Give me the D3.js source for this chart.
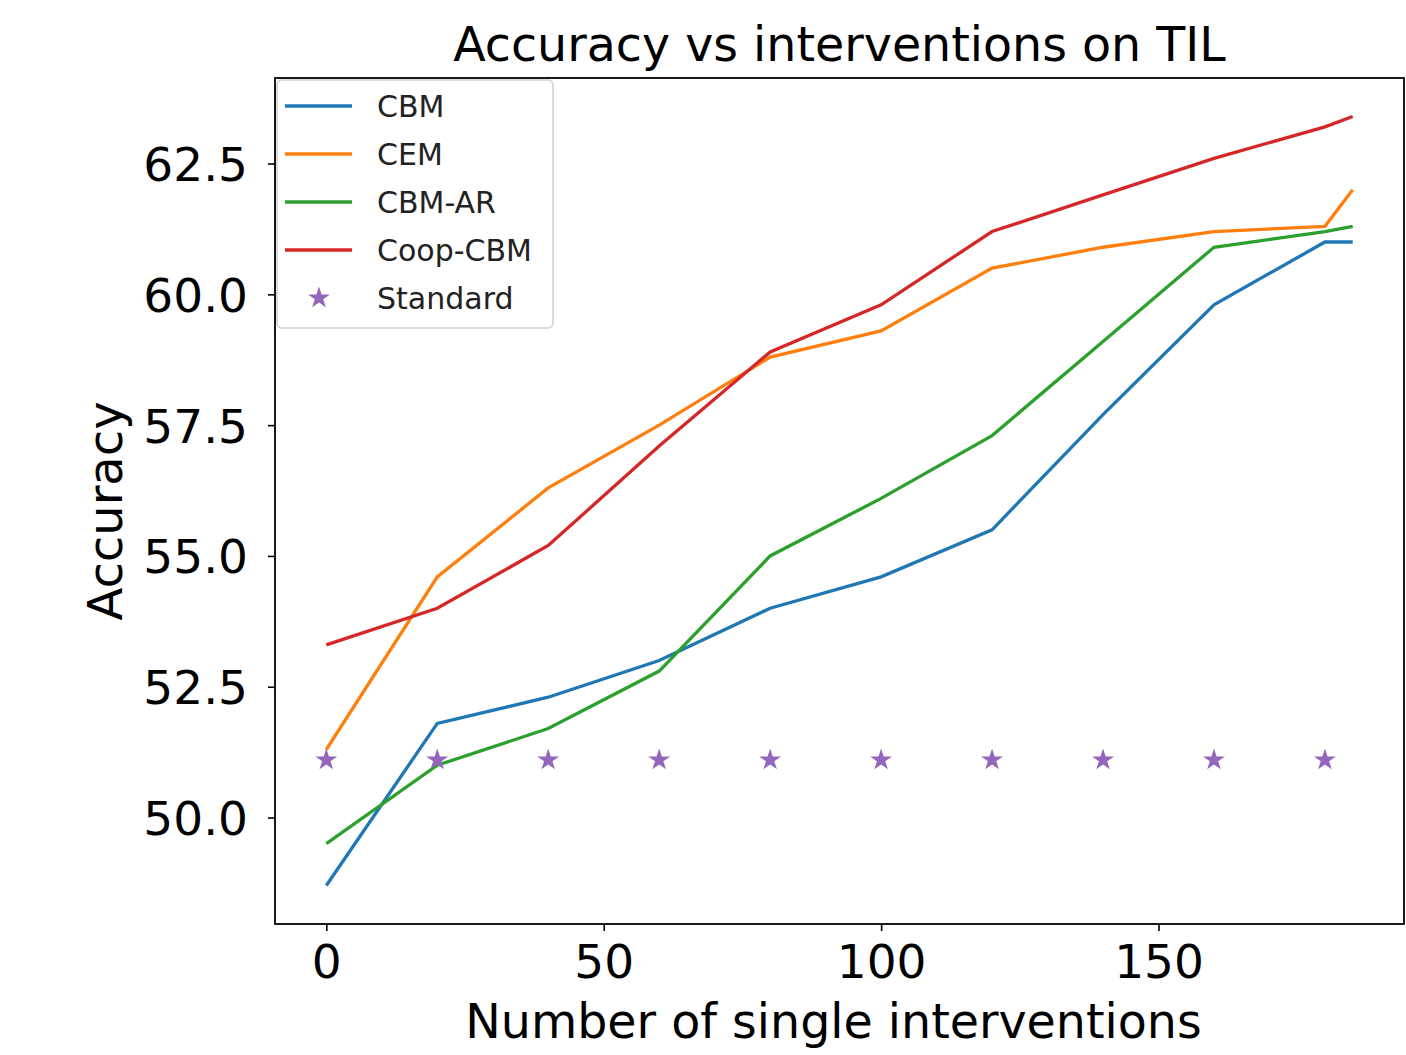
<!DOCTYPE html>
<html>
<head>
<meta charset="utf-8">
<script src="https://cdn.jsdelivr.net/npm/d3@7"></script>
<style>
  body { margin: 0; background: #fff; }
  text { font-family: "DejaVu Sans", sans-serif; fill: #000; }
</style>
</head>
<body>
<div id="chart"></div>
<script>
// x positions (number of single interventions)
const steps = [0, 20, 40, 60, 80, 100, 120, 140, 160, 180, 185];
const cbm = [48.7, 51.8, 52.3, 53.0, 54.0, 54.6, 55.5, 57.7, 59.8, 61.0, 61.0];
const cem = [51.3, 54.6, 56.3, 57.5, 58.8, 59.3, 60.5, 60.9, 61.2, 61.3, 62.0];
const cbmAr = [49.5, 51.0, 51.7, 52.8, 55.0, 56.1, 57.3, 59.1, 60.9, 61.2, 61.3];
const coopCbm = [53.3, 54.0, 55.2, 57.1, 58.9, 59.8, 61.2, 61.9, 62.6, 63.2, 63.4];
const standardSteps = [0, 20, 40, 60, 80, 100, 120, 140, 160, 180];
const standard = [51.1, 51.1, 51.1, 51.1, 51.1, 51.1, 51.1, 51.1, 51.1, 51.1];
const xTicks = [0, 50, 100, 150];
const yTicks = [50.0, 52.5, 55.0, 57.5, 60.0, 62.5];

const series = [
  { name: 'CBM', values: cbm, color: '#1f77b4' },
  { name: 'CEM', values: cem, color: '#ff7f0e' },
  { name: 'CBM-AR', values: cbmAr, color: '#2ca02c' },
  { name: 'Coop-CBM', values: coopCbm, color: '#d62728' }
];
const starColor = '#9467bd';

const width = 1406, height = 1055;
const plotLeft = 275, plotRight = 1404, plotTop = 78, plotBottom = 924;

const svg = d3.select('#chart').append('svg')
  .attr('width', width)
  .attr('height', height);

// matplotlib style 5% margins
const xMin = d3.min(steps), xMax = d3.max(steps);
const xPad = (xMax - xMin) * 0.05;
const allY = [].concat(cbm, cem, cbmAr, coopCbm, standard);
const yMin = d3.min(allY), yMax = d3.max(allY);
const yPad = (yMax - yMin) * 0.05;

const x = d3.scaleLinear().domain([xMin - xPad, xMax + xPad]).range([plotLeft, plotRight]);
const y = d3.scaleLinear().domain([yMin - yPad, yMax + yPad]).range([plotBottom, plotTop]);

// axes
const xAxis = svg.append('g')
  .attr('transform', `translate(0, ${plotBottom})`)
  .call(d3.axisBottom(x).tickValues(xTicks).tickSize(7).tickPadding(14).tickFormat(d3.format('d')));
const yAxis = svg.append('g')
  .attr('transform', `translate(${plotLeft}, 0)`)
  .call(d3.axisLeft(y).tickValues(yTicks).tickSize(7).tickPadding(20).tickFormat(d3.format('.1f')));

[xAxis, yAxis].forEach(a => {
  a.select('.domain').remove();
  a.selectAll('.tick line').attr('stroke', '#000').attr('stroke-width', 1.6);
  a.selectAll('.tick text').style('font-size', '47px').style('font-family', '"DejaVu Sans", sans-serif');
});
yAxis.selectAll('.tick text').attr('dy', '0.36em');

// frame
svg.append('rect')
  .attr('x', plotLeft).attr('y', plotTop)
  .attr('width', plotRight - plotLeft).attr('height', plotBottom - plotTop)
  .attr('fill', 'none').attr('stroke', '#000').attr('stroke-width', 1.8);

// lines
const line = d3.line()
  .x((d, i) => x(steps[i]))
  .y(d => y(d));

svg.selectAll('path.series')
  .data(series)
  .enter()
  .append('path')
  .attr('class', 'series')
  .attr('d', d => line(d.values))
  .attr('fill', 'none')
  .attr('stroke', d => d.color)
  .attr('stroke-width', 3.3);

// standard stars
const star = d3.symbol().type(d3.symbolStar).size(150);
svg.selectAll('path.star')
  .data(standard)
  .enter()
  .append('path')
  .attr('class', 'star')
  .attr('d', star)
  .attr('transform', (d, i) => `translate(${x(standardSteps[i])}, ${y(d)})`)
  .attr('fill', starColor);

// titles
svg.append('text')
  .attr('x', (plotLeft + plotRight) / 2)
  .attr('y', 61)
  .attr('text-anchor', 'middle')
  .style('font-size', '47.5px')
  .text('Accuracy vs interventions on TIL');

svg.append('text')
  .attr('x', (plotLeft + plotRight) / 2 - 6)
  .attr('y', 1038)
  .attr('text-anchor', 'middle')
  .style('font-size', '47.5px')
  .text('Number of single interventions');

svg.append('text')
  .attr('transform', `translate(122, 511) rotate(-90)`)
  .attr('text-anchor', 'middle')
  .style('font-size', '48px')
  .text('Accuracy');

// legend
const legend = svg.append('g').attr('transform', `translate(${plotLeft + 2}, ${plotTop + 2})`);
legend.append('rect')
  .attr('width', 276).attr('height', 248)
  .attr('rx', 5)
  .attr('fill', 'rgba(255,255,255,0.8)')
  .attr('stroke', '#d0d0d0')
  .attr('stroke-width', 1.5);

const legendItems = series.map(s => ({ name: s.name, color: s.color, type: 'line' }))
  .concat([{ name: 'Standard', color: starColor, type: 'star' }]);

legendItems.forEach((item, i) => {
  const row = legend.append('g').attr('transform', `translate(0, ${26 + i * 48})`);
  if (item.type === 'line') {
    row.append('line')
      .attr('x1', 8).attr('x2', 75)
      .attr('y1', 0).attr('y2', 0)
      .attr('stroke', item.color)
      .attr('stroke-width', 3.3);
  } else {
    row.append('path')
      .attr('d', star)
      .attr('transform', 'translate(42, 0)')
      .attr('fill', item.color);
  }
  row.append('text')
    .attr('x', 100)
    .attr('y', 0)
    .attr('dy', '0.36em')
    .style('font-size', '30px')
    .style('fill', '#222')
    .text(item.name);
});
</script>
</body>
</html>
